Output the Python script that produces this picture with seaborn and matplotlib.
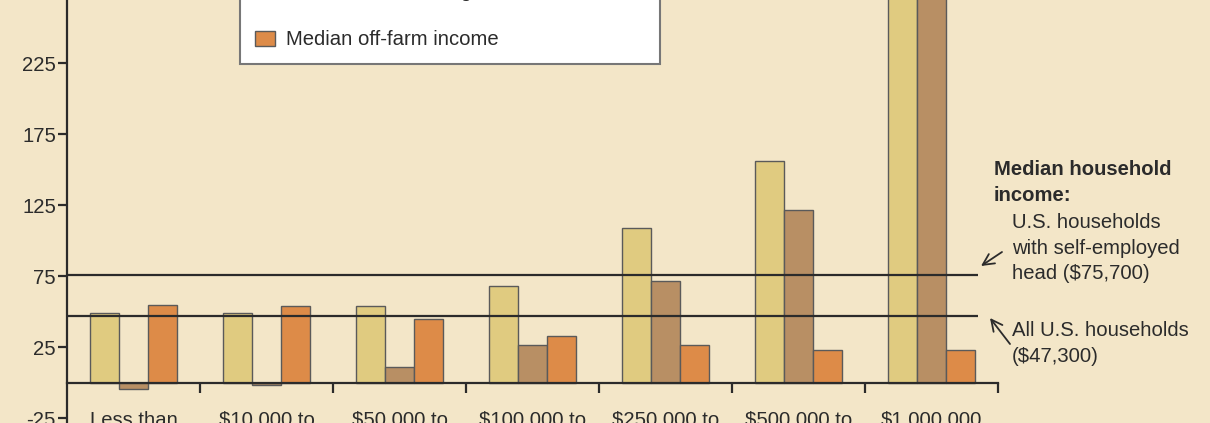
import pandas as pd
import matplotlib
matplotlib.use("Agg")
import matplotlib.pyplot as plt
import seaborn as sns
from matplotlib.patches import Patch, FancyArrowPatch

# Werte in 1.000 $
sales_classes = ["Less than\n$10,000", "$10,000 to\n$49,999", "$50,000 to\n$99,999",
                 "$100,000 to\n$249,999", "$250,000 to\n$499,999", "$500,000 to\n$999,999",
                 "$1,000,000\nor more"]
series_names = ["Median total household income", "Median farm earnings", "Median off-farm income"]
total_income = [49, 49, 54, 68, 109, 156, 330]
farm_income = [-4.5, -1.5, 11, 27, 72, 122, 310]
offfarm_income = [55, 54, 45, 33, 27, 23, 23]
ref_values = [75.7, 47.3]

colors = ["#E0CB80", "#B88F64", "#DD8B48"]
bg = "#F3E6C8"
ink = "#2b2b2b"
FS = 14.6


def build_frame():
    rows = []
    for vals, name in zip([total_income, farm_income, offfarm_income], series_names):
        for cls, v in zip(sales_classes, vals):
            rows.append({"cls": cls, "series": name, "value": v})
    return pd.DataFrame(rows)


def main():
    sns.set_style("ticks")
    plt.rcParams["font.family"] = ["Liberation Sans", "DejaVu Sans"]
    plt.rcParams["axes.unicode_minus"] = False

    df = build_frame()
    W, H = 1210, 423
    fig = plt.figure(figsize=(W / 100, H / 100), dpi=100, facecolor=bg)
    ax = fig.add_axes([67 / W, 0, (998 - 67) / W, 1])
    ax.set_facecolor(bg)

    sns.barplot(data=df, x="cls", y="value", hue="series", palette=colors,
                saturation=1, width=0.66, errorbar=None, edgecolor="#5a5a5a",
                linewidth=1.0, legend=False, ax=ax, zorder=2)

    # Referenzlinien fuer Haushaltseinkommen
    ax.hlines(ref_values, -0.5, 6.35, color=ink, lw=1.6, zorder=3, clip_on=False)

    # Achsen
    for s in ["top", "right"]:
        ax.spines[s].set_visible(False)
    ax.spines["bottom"].set_position(("data", 0))
    for s in ["left", "bottom"]:
        ax.spines[s].set_linewidth(1.6)
        ax.spines[s].set_color(ink)
        ax.spines[s].set_zorder(4)

    ax.set_yticks([-25, 25, 75, 125, 175, 225, 275])
    ax.tick_params(axis="y", direction="out", length=6.5, width=1.6, color=ink,
                   labelsize=FS, labelcolor=ink, pad=1.5)
    ax.set_xticks(range(len(sales_classes)))
    ax.set_xticklabels(sales_classes)
    ax.set_xticks([i + 0.5 for i in range(len(sales_classes))], minor=True)
    ax.tick_params(axis="x", which="major", length=0, labelsize=FS, labelcolor=ink, pad=20)
    ax.tick_params(axis="x", which="minor", direction="out", length=7, width=1.6, color=ink)
    ax.set_xlabel("")
    ax.set_ylabel("")

    # Legende
    handles = [Patch(facecolor=c, edgecolor="#5a5a5a", linewidth=1.0) for c in colors]
    leg = fig.legend(handles, series_names, loc="lower left",
                     bbox_to_anchor=(240 / W, 1 - 64 / H, 420 / W, 0.3),
                     bbox_transform=fig.transFigure, mode="expand", borderaxespad=0,
                     fontsize=FS, frameon=True, fancybox=False, framealpha=1,
                     edgecolor="#777777", handlelength=1.0, handleheight=0.78,
                     handletextpad=0.55, labelspacing=1.45, borderpad=0.72)
    leg.get_frame().set_linewidth(1.5)
    for t in leg.get_texts():
        t.set_color(ink)

    # Beschriftung rechts
    def px(x, y):
        return (x / W, 1 - y / H)

    fig.text(*px(994, 182.5), "Median household\nincome:", fontsize=FS, fontweight="bold",
             color=ink, va="center", ha="left", linespacing=1.5)
    fig.text(*px(1012, 248), "U.S. households\nwith self-employed\nhead ($75,700)",
             fontsize=FS, color=ink, va="center", ha="left", linespacing=1.43)
    fig.text(*px(1012, 343.5), "All U.S. households\n($47,300)",
             fontsize=FS, color=ink, va="center", ha="left", linespacing=1.43)
    arrow = dict(arrowstyle="->", color=ink, lw=1.3, mutation_scale=20,
                 shrinkA=0, shrinkB=0)
    fig.patches.append(FancyArrowPatch(px(1002, 252), px(981, 266),
                                       transform=fig.transFigure, **arrow))
    fig.patches.append(FancyArrowPatch(px(1010, 344), px(990, 318),
                                       transform=fig.transFigure, **arrow))

    ax.set_xlim(-0.5, 6.5)
    ax.set_ylim(-28.2, 269.7)
    ax.set_autoscale_on(False)

    plt.savefig("out.png", dpi=100, facecolor=bg)
    plt.close()


if __name__ == "__main__":
    main()
